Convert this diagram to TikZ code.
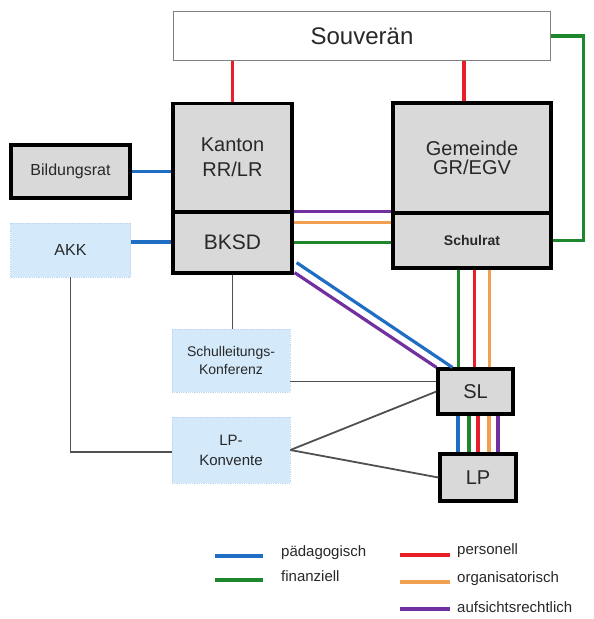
\documentclass[tikz,border=0pt]{standalone}
\usepackage{fontspec}
\setmainfont{Liberation Sans}
\definecolor{boxgray}{RGB}{217,217,217}
\definecolor{skyfill}{RGB}{212,234,250}
\definecolor{skyedge}{RGB}{190,215,238}
\definecolor{txt}{RGB}{40,40,40}
\definecolor{pblue}{RGB}{31,110,196}
\definecolor{pgreen}{RGB}{30,135,45}
\definecolor{pred}{RGB}{232,30,40}
\definecolor{porange}{RGB}{240,160,80}
\definecolor{ppurple}{RGB}{112,48,160}
\definecolor{conngray}{RGB}{80,80,80}

\begin{document}
\begin{tikzpicture}[x=1pt,y=-1pt,
  every node/.style={text=txt, inner sep=0pt, align=center},
  box/.style={draw=black, line width=3.2pt, fill=boxgray},
  skybox/.style={draw=skyedge, densely dotted, line width=0.8pt, fill=skyfill},
  rel/.style={line width=3.2pt},
  conn/.style={draw=conngray, line width=1.8pt}]
\useasboundingbox (0,0) rectangle (594,619);
\node[draw=gray, line width=1.4pt, fill=white, minimum width=377pt, minimum height=49pt, font=\fontsize{24}{28}\selectfont] (Souveraen) at (362,36) {Souverän};
\node[box, minimum width=119pt, minimum height=108pt, font=\fontsize{20}{25}\selectfont] (Kanton) at (232.5,157.5) {Kanton\\RR/LR};
\node[box, minimum width=119pt, minimum height=61pt, font=\fontsize{21}{25}\selectfont] (BKSD) at (232.5,242.5) {BKSD};
\node[box, minimum width=158pt, minimum height=110pt, font=\fontsize{20}{24}\selectfont] (Gemeinde) at (472,158) {\raisebox{-8pt}{\shortstack{Gemeinde\\[2pt]GR/EGV}}};
\node[box, minimum width=158pt, minimum height=55pt, font=\bfseries\fontsize{14}{16}\selectfont] (Schulrat) at (472,240.5) {Schulrat};
\node[box, minimum width=119pt, minimum height=53pt, font=\fontsize{16}{18}\selectfont] (Bildungsrat) at (70.5,171.5) {Bildungsrat};
\node[skybox, minimum width=120pt, minimum height=54pt, font=\fontsize{16}{18}\selectfont] (AKK) at (70.5,250) {AKK};
\node[skybox, minimum width=118pt, minimum height=63pt, font=\fontsize{14}{18}\selectfont] (SLK) at (231,360.5) {Schulleitungs-\\Konferenz};
\node[skybox, minimum width=118pt, minimum height=66pt, font=\fontsize{15}{20}\selectfont] (LPK) at (231,450) {LP-\\Konvente};
\node[box, minimum width=75pt, minimum height=45pt, font=\fontsize{20}{24}\selectfont] (SL) at (475.5,391.5) {SL};
\node[box, minimum width=76pt, minimum height=47pt, font=\fontsize{20}{24}\selectfont] (LP) at (478,477.5) {LP};

\draw[rel, pred] (Kanton.north) -- (Kanton.north |- Souveraen.south);
\draw[rel, pred] (Gemeinde.north) ++(-8,0) coordinate (gn) -- (gn |- Souveraen.south);
\draw[rel, pgreen] (Souveraen.east) -- ++(32,0) |- (Schulrat.east);
\draw[rel, pblue] (Bildungsrat.east) -- (Bildungsrat.east -| Kanton.west);
\draw[rel, pblue] (AKK.east) ++(0,-8) coordinate (ak) -- (ak -| BKSD.west);
\draw[rel, ppurple] (BKSD.north east) ++(0,1) coordinate (bp) -- (bp -| Schulrat.west);
\draw[rel, porange] (BKSD.east) ++(0,-20) coordinate (bo) -- (bo -| Schulrat.west);
\draw[rel, pgreen] (BKSD.east) -- (BKSD.east -| Schulrat.west);
\draw[rel, pblue] ([shift={(3,-12)}]BKSD.south east) -- ([xshift=16]SL.north west);
\draw[rel, ppurple] ([shift={(1,-2)}]BKSD.south east) -- (SL.north west);
\draw[rel, pgreen] (SL.north) ++(-17,0) coordinate (s1) -- (s1 |- Schulrat.south);
\draw[rel, pred] (SL.north) ++(-1,0) coordinate (s2) -- (s2 |- Schulrat.south);
\draw[rel, porange] (SL.north) ++(14,0) coordinate (s3) -- (s3 |- Schulrat.south);
\foreach \c/\dx in {pblue/-17.5,pgreen/-6.5,pred/2.5,porange/13.5,ppurple/22.5}
  \draw[rel, \c] (SL.south) ++(\dx,0) coordinate (t) -- (t |- LP.north);
\draw[conn] (BKSD.south) -- (BKSD.south |- SLK.north);
\draw[conn] (SLK.east) ++(0,21) coordinate (sk) -- (sk -| SL.west);
\draw[conn] (AKK.south) |- ([yshift=-2]LPK.west);
\draw[conn] (LPK.east) -- (SL.west);
\draw[conn] (LPK.east) -- (LP.west);

\draw[rel, pblue] (215,556) -- (263,556);
\draw[rel, pgreen] (215,580) -- (263,580);
\draw[rel, pred] (400,555) -- (450,555);
\draw[rel, porange] (400,582) -- (450,582);
\draw[rel, ppurple] (400,609) -- (450,609);
\node[anchor=west, font=\fontsize{15}{18}\selectfont] (legPaed) at (281,553) {pädagogisch};
\node[anchor=west, font=\fontsize{15}{18}\selectfont] (legFin) at (281,576) {finanziell};
\node[anchor=west, font=\fontsize{15}{18}\selectfont] (legPers) at (457,551) {personell};
\node[anchor=west, font=\fontsize{15}{18}\selectfont] (legOrg) at (457,579) {organisatorisch};
\node[anchor=west, font=\fontsize{15}{18}\selectfont] (legAuf) at (457,607) {aufsichtsrechtlich};
\end{tikzpicture}
\end{document}
